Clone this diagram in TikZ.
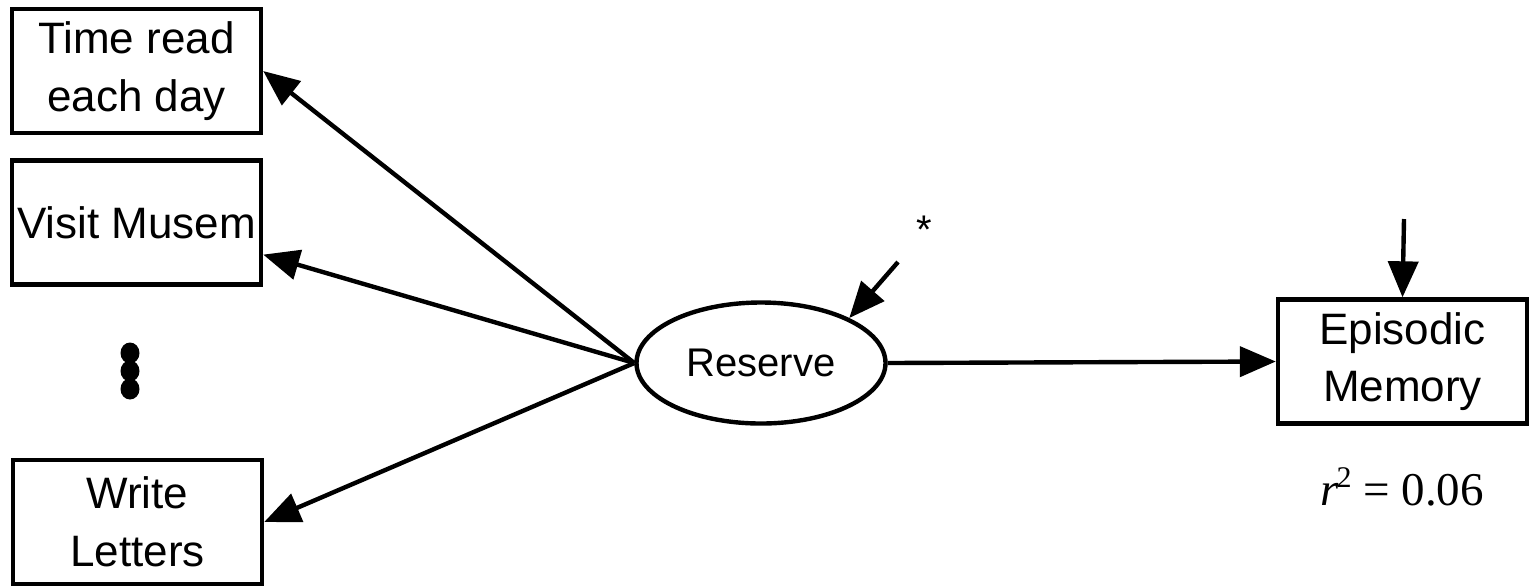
\documentclass[tikz,border=0pt]{standalone}
\usepackage{fontspec}
\setmainfont{Liberation Sans}
\newfontfamily\timesfont{Liberation Serif}
\usetikzlibrary{arrows.meta,shapes.geometric,calc}
\begin{document}
\begin{tikzpicture}[x=0.5pt,y=-0.5pt,
  every node/.style={inner sep=0pt, align=center},
  obsbox/.style={draw, line width=2.2pt, minimum width=124.5pt, minimum height=62pt, font=\fontsize{22}{26.5}\selectfont},
  latent/.style={draw, ellipse, line width=2.2pt, minimum width=124.5pt, minimum height=60.5pt, font=\fontsize{20}{24}\selectfont},
  dotnode/.style={ellipse, fill, minimum width=9.5pt, minimum height=10.5pt},
  conn/.style={line width=2.2pt, -{Triangle[length=18pt,width=15pt]}}]
\useasboundingbox (0,0) rectangle (1530,586);
\node[obsbox] (time) at (136.5,71) {Time read\\[2.5pt]each day};
\node[obsbox] (visit) at (136.5,222.5) {Visit Musem};
\node[obsbox] (write) at (137.5,522) {Write\\[2.5pt]Letters};
\node[obsbox] (em) at (1402.5,361.5) {Episodic\\[2pt]Memory};
\node[latent] (res) at (761,363) {Reserve};
\node[dotnode] (d1) at (130,353) {};
\node[dotnode] (d2) at (130,371) {};
\node[dotnode] (d3) at (130,389) {};
\node[font=\fontsize{20}{24}\selectfont] (star) at (924,230) {*};
\node[font=\timesfont\fontsize{23.5}{28}\selectfont] (rsq) at (1402,487) {\textit{r}\kern-1pt\raisebox{9pt}{\fontsize{15}{18}\selectfont 2} = 0.06};
\coordinate (starfrom) at (898,262);
\coordinate (topfrom) at (1404,219);
\draw[conn] (res.west) -- (time.east);
\draw[conn] (res.west) -- ($(visit.east)!0.5!(visit.south east)$);
\draw[conn] (res.west) -- (write.east);
\draw[conn] (res.east) -- (em.west);
\draw[conn] (starfrom) -- (res.27);
\draw[conn] (topfrom) -- (em.north);
\end{tikzpicture}
\end{document}
